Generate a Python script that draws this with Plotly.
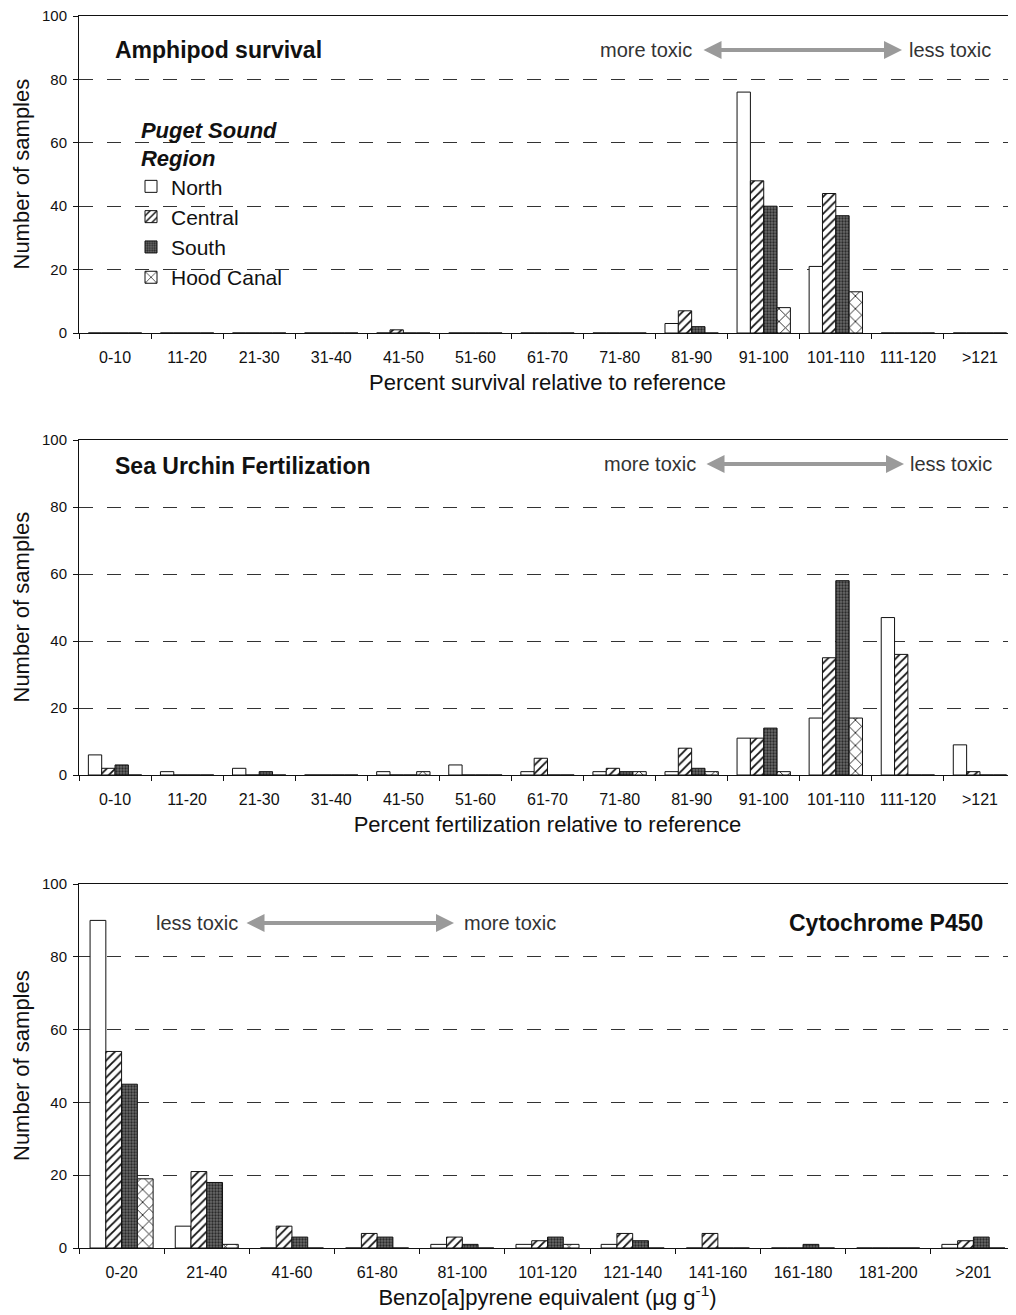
import plotly.graph_objects as go
from plotly.subplots import make_subplots

# ---------------- data ----------------
regions = ["North", "Central", "South", "Hood Canal"]

cats_pct = ["0-10", "11-20", "21-30", "31-40", "41-50", "51-60", "61-70",
            "71-80", "81-90", "91-100", "101-110", "111-120", ">121"]

amph_north   = [0, 0, 0, 0, 0, 0, 0, 0, 3, 76, 21, 0, 0]
amph_central = [0, 0, 0, 0, 1, 0, 0, 0, 7, 48, 44, 0, 0]
amph_south   = [0, 0, 0, 0, 0, 0, 0, 0, 2, 40, 37, 0, 0]
amph_hood    = [0, 0, 0, 0, 0, 0, 0, 0, 0, 8, 13, 0, 0]

urch_north   = [6, 1, 2, 0, 1, 3, 1, 1, 1, 11, 17, 47, 9]
urch_central = [2, 0, 0, 0, 0, 0, 5, 2, 8, 11, 35, 36, 1]
urch_south   = [3, 0, 1, 0, 0, 0, 0, 1, 2, 14, 58, 0, 0]
urch_hood    = [0, 0, 0, 0, 1, 0, 0, 1, 1, 1, 17, 0, 0]

cats_bap = ["0-20", "21-40", "41-60", "61-80", "81-100", "101-120",
            "121-140", "141-160", "161-180", "181-200", ">201"]

cyp_north   = [90, 6, 0, 0, 1, 1, 1, 0, 0, 0, 1]
cyp_central = [54, 21, 6, 4, 3, 2, 4, 4, 0, 0, 2]
cyp_south   = [45, 18, 3, 3, 1, 3, 2, 0, 1, 0, 3]
cyp_hood    = [19, 1, 0, 0, 0, 1, 0, 0, 0, 0, 0]

y_ticks = [0, 20, 40, 60, 80, 100]

# ---------------- styling ----------------
OFF = 8                 # page body margin
W, H = 1016 - OFF, 1315 - OFF
AX_LEFT = 79            # page x of the y axes
L = AX_LEFT - OFF
FONT = "Liberation Sans, Arial, sans-serif"

styles = {
    "North":      dict(color="white", pattern=dict(shape="")),
    "Central":    dict(color="white", pattern=dict(shape="/", fgcolor="#111", bgcolor="white",
                                                   size=6, solidity=0.3, fillmode="replace")),
    "South":      dict(color="#555555", pattern=dict(shape=".", fgcolor="#2a2a2a", bgcolor="#6a6a6a",
                                                     size=3, solidity=0.45, fillmode="replace")),
    "Hood Canal": dict(color="white", pattern=dict(shape="x", fgcolor="#111", bgcolor="white",
                                                   size=9, solidity=0.18, fillmode="replace")),
}

fig = make_subplots(rows=3, cols=1)

panels = [
    (cats_pct, [amph_north, amph_central, amph_south, amph_hood], True),
    (cats_pct, [urch_north, urch_central, urch_south, urch_hood], False),
    (cats_bap, [cyp_north, cyp_central, cyp_south, cyp_hood], False),
]

for r, (cats, series, show) in enumerate(panels, start=1):
    for name, vals in zip(regions, series):
        st = styles[name]
        fig.add_trace(go.Bar(
            x=cats, y=vals, name=name, showlegend=show, legendgroup=name,
            marker=dict(color=st["color"], pattern=st["pattern"],
                        line=dict(color="#111", width=1)),
        ), row=r, col=1)


def py(p):
    """page y pixel -> paper fraction"""
    return 1 - (p - OFF) / H


def px(p):
    """page x pixel -> paper fraction (relative to plot area)"""
    return (p - AX_LEFT) / (W - L)


domains = [(py(333), py(16)), (py(775), py(440)), (py(1248), py(884))]
xtitles = ["Percent survival relative to reference",
           "Percent fertilization relative to reference",
           "Benzo[a]pyrene equivalent (µg g<sup>-1</sup>)"]

annos = []
for i in range(3):
    sfx = "" if i == 0 else str(i + 1)
    fig.layout["yaxis" + sfx].update(
        domain=list(domains[i]), range=[0, 100], tickvals=y_ticks, automargin=False,
        showgrid=True, gridcolor="#333", gridwidth=1, griddash="14px,14px",
        zeroline=False, showline=True, linecolor="#111", linewidth=1,
        ticks="outside", ticklen=5, tickcolor="#111", ticklabelstandoff=3,
        ticklabeloverflow="allow",
        tickfont=dict(size=15, color="#111", family=FONT),
        fixedrange=True,
    )
    fig.layout["xaxis" + sfx].update(
        domain=[0, 1], showline=True, mirror=True, linecolor="#111", linewidth=1,
        ticks="outside", ticklen=5, tickcolor="#111", tickson="boundaries", automargin=False,
        showgrid=False, zeroline=False, ticklabelstandoff=10,
        tickfont=dict(size=16, color="#111", family=FONT),
        title=dict(text=xtitles[i], font=dict(size=22, color="#111", family=FONT), standoff=9),
    )
    ymid = (domains[i][0] + domains[i][1]) / 2
    annos.append(dict(text="Number of samples", x=px(21), y=ymid,
                      xanchor="center", yanchor="middle", textangle=-90,
                      font=dict(size=22, color="#111")))

# panel titles
annos.append(dict(text="<b>Amphipod survival</b>", x=px(113), y=py(50), xanchor="left",
                  yanchor="middle", font=dict(size=23)))
annos.append(dict(text="<b>Sea Urchin Fertilization</b>", x=px(113), y=py(466), xanchor="left",
                  yanchor="middle", font=dict(size=23)))
annos.append(dict(text="<b>Cytochrome P450</b>", x=px(985), y=py(923), xanchor="right",
                  yanchor="middle", font=dict(size=23)))


def toxic(y, left_text, right_text, x_lt, a0, a1, x_rt):
    annos.append(dict(text=left_text, x=px(x_lt), y=py(y), xanchor="right", yanchor="middle",
                      font=dict(size=20, color="#333")))
    annos.append(dict(text=right_text, x=px(x_rt), y=py(y), xanchor="left", yanchor="middle",
                      font=dict(size=20, color="#333")))
    annos.append(dict(text="", x=px(a1), y=py(y), ax=-(a1 - a0), ay=0, axref="pixel", ayref="pixel",
                      showarrow=True, arrowside="end+start", arrowhead=2, startarrowhead=2,
                      arrowsize=0.9, startarrowsize=0.9, arrowwidth=4, arrowcolor="#9a9a9a"))


toxic(50, "more toxic", "less toxic", 694, 702, 902, 907)
toxic(464, "more toxic", "less toxic", 698, 705, 904, 908)
toxic(923, "less toxic", "more toxic", 240, 245, 454, 462)

for a in annos:
    a.setdefault("xref", "paper")
    a.setdefault("yref", "paper")
    a.setdefault("showarrow", False)
fig.update_layout(annotations=annos)

fig.update_layout(
    width=W, height=H,
    margin=dict(l=L, r=0, t=0, b=0),
    paper_bgcolor="white", plot_bgcolor="white",
    font=dict(family=FONT, color="#111"),
    barmode="group", bargap=0.26, bargroupgap=0,
    legend=dict(
        x=px(131), y=py(109), xanchor="left", yanchor="top",
        bgcolor="rgba(0,0,0,0)", font=dict(size=21, color="#111", family=FONT),
        title=dict(text="<b><i>Puget Sound<br>Region</i></b>", side="top center",
                   font=dict(size=22, color="#111", family=FONT)),
        tracegroupgap=0, itemwidth=30,
    ),
)

fig.write_html("out.html")
